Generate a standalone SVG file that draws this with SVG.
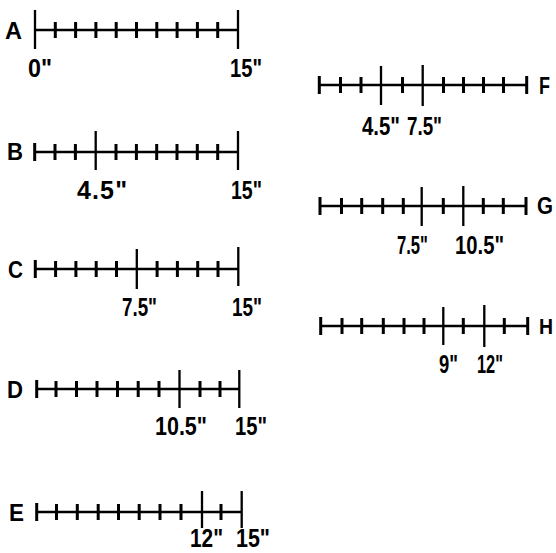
<svg xmlns="http://www.w3.org/2000/svg" width="556" height="553" viewBox="0 0 556 553">
<style>
.ln{stroke:#000;stroke-width:2.6;fill:none}
.sm{stroke:#000;stroke-width:3;fill:none}
.bg{stroke:#000;stroke-width:2.3;fill:none}
text{font-family:"Liberation Sans",Arial,sans-serif;font-weight:bold;font-size:25px;fill:#000}
text.l{font-size:23px}
</style>
<rect width="556" height="553" fill="#fff"/>
<g id="A">
<path class="ln" d="M35 30H238"/>
<path class="sm" d="M55.3 22V38M75.6 22V38M95.9 22V38M116.2 22V38M136.5 22V38M156.8 22V38M177.1 22V38M197.4 22V38M217.7 22V38"/>
<path class="bg" d="M35 10V49M238 10V49"/>
<text class="l" x="5" y="39" textLength="17" lengthAdjust="spacingAndGlyphs">A</text>
<text x="28" y="77" textLength="24" lengthAdjust="spacingAndGlyphs">0"</text>
<text x="230" y="77" textLength="32" lengthAdjust="spacingAndGlyphs">15"</text>
</g>
<g id="B">
<path class="ln" d="M34.7 152H238"/>
<path class="sm" d="M34.7 143V161M55 144V160M75.4 144V160M116 144V160M136.4 144V160M156.7 144V160M177 144V160M197.3 144V160M217.7 144V160"/>
<path class="bg" d="M95.7 131V170M238 131V170"/>
<text class="l" x="7" y="160" textLength="16" lengthAdjust="spacingAndGlyphs">B</text>
<text x="77" y="199" textLength="50" lengthAdjust="spacing">4.5"</text>
<text x="231" y="199" textLength="31" lengthAdjust="spacingAndGlyphs">15"</text>
</g>
<g id="C">
<path class="ln" d="M35.3 269H238.3"/>
<path class="sm" d="M35.3 260V278M55.6 261V277M75.9 261V277M96.2 261V277M116.5 261V277M157.1 261V277M177.4 261V277M197.7 261V277M218 261V277"/>
<path class="bg" d="M136.8 249V289M238.3 247V286"/>
<text class="l" x="8" y="278" textLength="15" lengthAdjust="spacingAndGlyphs">C</text>
<text x="122" y="316" textLength="35" lengthAdjust="spacingAndGlyphs">7.5"</text>
<text x="232" y="316" textLength="30" lengthAdjust="spacingAndGlyphs">15"</text>
</g>
<g id="D">
<path class="ln" d="M36.7 389H239.3"/>
<path class="sm" d="M36.7 380V398M56 381V397M76.5 381V397M97 381V397M117.5 381V397M138.2 381V397M159 381V397M200 381V397M220 381V397"/>
<path class="bg" d="M179.5 370V408M239.3 370V408"/>
<text class="l" x="7" y="398" textLength="16" lengthAdjust="spacingAndGlyphs">D</text>
<text x="155" y="435" textLength="52" lengthAdjust="spacingAndGlyphs">10.5"</text>
<text x="235" y="435" textLength="32" lengthAdjust="spacingAndGlyphs">15"</text>
</g>
<g id="E">
<path class="ln" d="M36.7 512H241.7"/>
<path class="sm" d="M36.7 503V521M56.5 504V520M77.3 504V520M98.2 504V520M118.5 504V520M139.2 504V520M160 504V520M181 504V520M221 504V520"/>
<path class="bg" d="M202 491V528M241.7 491V528"/>
<text class="l" x="9" y="521" textLength="15" lengthAdjust="spacingAndGlyphs">E</text>
<text x="190" y="547" textLength="33" lengthAdjust="spacingAndGlyphs">12"</text>
<text x="236" y="547" textLength="34" lengthAdjust="spacingAndGlyphs">15"</text>
</g>
<g id="F">
<path class="ln" d="M319.3 85H526.7"/>
<path class="sm" d="M319.3 76V94M340.5 77V93M361 77V93M402.5 77V93M443.5 77V93M463.5 77V93M483.5 77V93M503.5 77V93M526.7 76V94"/>
<path class="bg" d="M381 66V105M422.7 65V106"/>
<text class="l" x="539" y="94" textLength="11" lengthAdjust="spacingAndGlyphs">F</text>
<text x="362" y="135" textLength="38" lengthAdjust="spacingAndGlyphs">4.5"</text>
<text x="407" y="135" textLength="35" lengthAdjust="spacingAndGlyphs">7.5"</text>
</g>
<g id="G">
<path class="ln" d="M320 206H526"/>
<path class="sm" d="M320 197V215M341.5 198V214M361.7 198V214M382.7 198V214M403.3 198V214M443.3 198V214M483.3 198V214M503.3 198V214M526 197V215"/>
<path class="bg" d="M421.7 187V226M463.3 186V226"/>
<text class="l" x="537" y="214" textLength="16" lengthAdjust="spacingAndGlyphs">G</text>
<text x="397" y="254" textLength="31" lengthAdjust="spacingAndGlyphs">7.5"</text>
<text x="455" y="254" textLength="49" lengthAdjust="spacingAndGlyphs">10.5"</text>
</g>
<g id="H">
<path class="ln" d="M320.7 326H527.7"/>
<path class="sm" d="M320.7 317V335M342 318V334M361.7 318V334M383.3 318V334M404 318V334M424 318V334M463.3 318V334M504.3 318V334M527.7 317V335"/>
<path class="bg" d="M443.3 307V345M484.3 305V347"/>
<text class="l" x="539" y="334" style="font-size:22px" textLength="14" lengthAdjust="spacingAndGlyphs">H</text>
<text x="439" y="373" textLength="19" lengthAdjust="spacingAndGlyphs">9"</text>
<text x="477" y="373" textLength="26" lengthAdjust="spacingAndGlyphs">12"</text>
</g>
<g id="connectors"/>
</svg>
